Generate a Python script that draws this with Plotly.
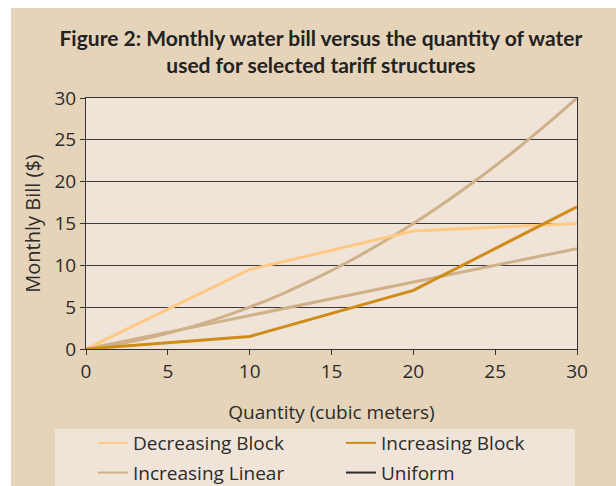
import plotly.graph_objects as go

# ---- data ----
x_block = [0, 10, 20, 30]
decreasing_block = [0, 9.5, 14.1, 15.0]
increasing_block = [0, 1.5, 7.0, 17.0]

x_lin = [0, 2, 4, 6, 8, 10, 12, 14, 16, 18, 20, 22, 24, 26, 28, 30]
increasing_linear = [0, 0.6, 1.4, 2.4, 3.6, 5.0, 6.6, 8.4, 10.4, 12.6, 15.0, 17.6, 20.4, 23.4, 26.6, 30.0]

x_uniform = [0, 10, 20, 30]
uniform = [0, 4, 8, 12]

x_ticks = [0, 5, 10, 15, 20, 25, 30]
y_ticks = [0, 5, 10, 15, 20, 25, 30]

C_DEC = "#FFC983"
C_INC = "#D18B17"
C_TAN = "#D0B088"
C_UNI = "#2a2a2a"
BG = "#E6D4BA"
PLOT_BG = "#F0E4D8"
FONT = "'Open Sans', Lato, sans-serif"
TFONT = "Lato, 'Open Sans', sans-serif"

W, H = 616, 486
L, R, T, B = 86, 39, 98, 137
pw, ph = W - L - R, H - T - B

def px(xpix):
    return (xpix - L) / pw

def py(ypix):
    return (H - B - ypix) / ph

fig = go.Figure()
fig.add_trace(go.Scatter(x=x_uniform, y=uniform, mode="lines", name="Uniform",
                         line=dict(color=C_TAN, width=3), showlegend=False))
fig.add_trace(go.Scatter(x=x_lin, y=increasing_linear, mode="lines", name="Increasing Linear",
                         line=dict(color=C_TAN, width=3, shape="spline"), showlegend=False))
fig.add_trace(go.Scatter(x=x_block, y=decreasing_block, mode="lines", name="Decreasing Block",
                         line=dict(color=C_DEC, width=3), showlegend=False))
fig.add_trace(go.Scatter(x=x_block, y=increasing_block, mode="lines", name="Increasing Block",
                         line=dict(color=C_INC, width=3), showlegend=False))

# legend entries: column 1 (legend), column 2 (legend2)
legend_items = [("Decreasing Block", C_DEC, "legend"), ("Increasing Linear", C_TAN, "legend"),
                ("Increasing Block", C_INC, "legend2"), ("Uniform", C_UNI, "legend2")]
for name, col, lg in legend_items:
    fig.add_trace(go.Scatter(x=[None], y=[None], mode="lines", name=name, legend=lg,
                             legendgroup=name, line=dict(color=col, width=2), showlegend=True))

shapes = [
    dict(type="rect", xref="paper", yref="paper", x0=px(0), x1=px(W), y0=py(8), y1=py(0),
         fillcolor="white", line_width=0, layer="above"),
    dict(type="rect", xref="paper", yref="paper", x0=px(0), x1=px(11), y0=py(H), y1=py(0),
         fillcolor="white", line_width=0, layer="above"),
    dict(type="rect", xref="paper", yref="paper", x0=px(55), x1=px(575), y0=py(H), y1=py(429),
         fillcolor=PLOT_BG, line_width=0, layer="below"),
]

leg_common = dict(orientation="v", xanchor="left", y=py(424), yanchor="top",
                  bgcolor="rgba(0,0,0,0)", font=dict(family=FONT, size=19, color="#2b2b2b"),
                  tracegroupgap=2, itemwidth=30, traceorder="grouped")

fig.update_layout(
    width=W, height=H,
    margin=dict(l=L, r=R, t=T, b=B, autoexpand=False),
    paper_bgcolor=BG, plot_bgcolor=PLOT_BG,
    font=dict(family=FONT, color="#2b2b2b", size=19),
    title=dict(text="<b>Figure 2: Monthly water bill versus the quantity of water<br>used for selected tariff structures</b>",
               x=0.521, xanchor="center", y=0.906, yanchor="middle",
               font=dict(family=TFONT, size=21, color="#222")),
    shapes=shapes,
    showlegend=True,
    legend=dict(x=px(93), **leg_common),
    legend2=dict(x=px(341), **leg_common),
    xaxis=dict(range=[0, 30], tickvals=x_ticks, ticktext=[str(v) for v in x_ticks],
               showgrid=False, zeroline=False, showline=True, linecolor="#333", linewidth=1,
               mirror=True, ticks="outside", ticklen=5, tickcolor="#333",
               tickfont=dict(size=19, color="#2b2b2b"),
               title=dict(text="Quantity (cubic meters)", standoff=22,
                          font=dict(size=19, color="#2b2b2b"))),
    yaxis=dict(range=[0, 30], tickvals=y_ticks, ticktext=[str(v) for v in y_ticks],
               showgrid=True, gridcolor="#3a3a3a", gridwidth=1, zeroline=False,
               showline=True, linecolor="#333", linewidth=1, mirror=True,
               ticks="outside", ticklen=5, tickcolor="#333",
               tickfont=dict(size=19, color="#2b2b2b"),
               title=dict(text="Monthly Bill ($)", standoff=8,
                          font=dict(size=20, color="#2b2b2b"))),
)

fig.write_html("out.html", config={"displayModeBar": False},
               post_script="document.body.style.margin='0';")
